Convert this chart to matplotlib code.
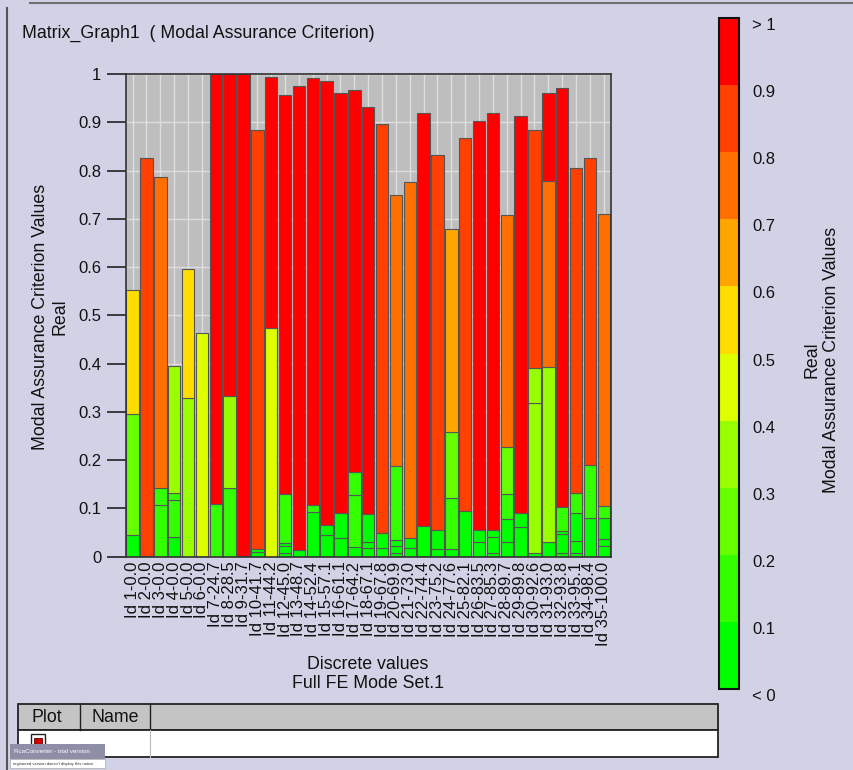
import matplotlib

matplotlib.use("Agg")
import matplotlib.pyplot as plt
import numpy as np
from matplotlib.cm import ScalarMappable
from matplotlib.colors import BoundaryNorm, ListedColormap
from matplotlib.patches import Rectangle

plt.rcParams["font.family"] = ["Liberation Sans", "DejaVu Sans"]

W, H = 854, 770
BG = "#D2D2E6"
PLOT_BG = "#BEBEBE"
GRID = "#DEDEDE"
EDGE = "#555555"
TXT = "#111111"
FS = 12.0      # tick labels
FS_LAB = 12.8  # titles / axis labels

mode_labels = [
    "Id 1-0.0", "Id 2-0.0", "Id 3-0.0", "Id 4-0.0", "Id 5-0.0", "Id 6-0.0",
    "Id 7-24.7", "Id 8-28.5", "Id 9-31.7", "Id 10-41.7", "Id 11-44.2",
    "Id 12-45.0", "Id 13-48.7", "Id 14-52.4", "Id 15-57.1", "Id 16-61.1",
    "Id 17-64.2", "Id 18-67.1", "Id 19-67.8", "Id 20-69.9", "Id 21-73.0",
    "Id 22-74.4", "Id 23-75.2", "Id 24-77.6", "Id 25-82.1", "Id 26-83.5",
    "Id 27-85.3", "Id 28-89.7", "Id 29-89.8", "Id 30-92.6", "Id 31-93.0",
    "Id 32-93.8", "Id 33-95.1", "Id 34-98.4", "Id 35-100.0",
]

# cumulative MAC heights of each stacked segment, bottom -> top, per mode
stack_tops = [
    [0.044, 0.295, 0.553],
    [0.002, 0.825],
    [0.108, 0.142, 0.786],
    [0.040, 0.117, 0.133, 0.395],
    [0.328, 0.596],
    [0.464],
    [0.109, 1.0],
    [0.142, 0.333, 1.0],
    [0.002, 1.0],
    [0.010, 0.016, 0.884],
    [0.474, 0.994],
    [0.007, 0.022, 0.029, 0.130, 0.957],
    [0.014, 0.976],
    [0.092, 0.108, 0.991],
    [0.044, 0.066, 0.986],
    [0.038, 0.091, 0.960],
    [0.020, 0.128, 0.176, 0.967],
    [0.017, 0.030, 0.089, 0.931],
    [0.017, 0.050, 0.896],
    [0.008, 0.022, 0.034, 0.187, 0.749],
    [0.017, 0.038, 0.776],
    [0.063, 0.919],
    [0.015, 0.055, 0.832],
    [0.016, 0.122, 0.259, 0.678],
    [0.094, 0.868],
    [0.031, 0.055, 0.903],
    [0.007, 0.041, 0.055, 0.919],
    [0.031, 0.078, 0.129, 0.228, 0.707],
    [0.061, 0.091, 0.912],
    [0.007, 0.318, 0.390, 0.884],
    [0.031, 0.394, 0.778, 0.960],
    [0.007, 0.047, 0.054, 0.103, 0.970],
    [0.007, 0.033, 0.090, 0.132, 0.805],
    [0.081, 0.191, 0.825],
    [0.022, 0.037, 0.080, 0.104, 0.709],
]

level_edges = [0.0, 0.1, 0.2, 0.3, 0.4, 0.5, 0.6, 0.7, 0.8, 0.9, 1.0]
level_colors = ["#00FF00", "#33FF00", "#66FF00", "#99FF00", "#DDFF00",
                "#FFDD00", "#FFA500", "#FF7000", "#FF4000", "#FF0000"]
level_labels = ["< 0", "0.1", "0.2", "0.3", "0.4", "0.5", "0.6", "0.7",
                "0.8", "0.9", "> 1"]

cmap = ListedColormap(level_colors)
norm = BoundaryNorm(level_edges, cmap.N, clip=True)


def px(x0, y0, x1, y1):
    """pixel box (top-left origin) -> figure rect"""
    return [x0 / W, 1 - y1 / H, (x1 - x0) / W, (y1 - y0) / H]


fig = plt.figure(figsize=(W / 100, H / 100), dpi=100, facecolor=BG)

# overlay in pixel coords for the window furniture
axf = fig.add_axes([0, 0, 1, 1])
axf.set_xlim(0, W); axf.set_ylim(H, 0); axf.axis("off")
axf.plot([30, W], [3, 3], color="#707070", lw=1.5)
axf.plot([7, 7], [8, H], color="#555555", lw=1.5)

axf.text(22, 33, "Matrix_Graph1  ( Modal Assurance Criterion)", ha="left",
         va="center", fontsize=FS_LAB, color=TXT)

# ---- main bar plot ----
ax = fig.add_axes(px(125.7, 74, 610.7, 556.7))
ax.set_facecolor(PLOT_BG)
x = np.arange(1, len(mode_labels) + 1)
for xi, tops in zip(x, stack_tops):
    tops = np.asarray(tops)
    bottoms = np.concatenate([[0.0], tops[:-1]])
    ax.bar(np.full(len(tops), xi), tops - bottoms, bottom=bottoms, width=0.9,
           color=cmap(norm(tops)), edgecolor=EDGE, linewidth=0.8, zorder=2)

ax.set_xlim(0.5, len(mode_labels) + 0.5)
ax.set_ylim(0, 1)
ax.set_xticks(x, mode_labels, rotation=90, fontsize=FS, color=TXT)
ax.set_yticks(level_edges, [f"{v:g}" for v in level_edges], fontsize=FS, color=TXT)
ax.tick_params(axis="x", length=0, pad=3.5)
ax.tick_params(axis="y", direction="out", length=14, width=1.2, pad=3.5, color="#222222")
ax.grid(True, color=GRID, lw=1.0, zorder=0)
ax.set_axisbelow(True)
for s in ax.spines.values():
    s.set_color("#333333"); s.set_linewidth(1.2)

axf.text(50, 317, "Modal Assurance Criterion Values\nReal", rotation=90,
         ha="center", va="center", multialignment="center", fontsize=FS_LAB,
         color=TXT, linespacing=1.2)
axf.text(368, 674, "Discrete values\nFull FE Mode Set.1", ha="center",
         va="center", multialignment="center", fontsize=FS_LAB, color=TXT,
         linespacing=1.15)

# ---- colour legend ----
cax = fig.add_axes(px(719, 18, 739, 689))
cb = fig.colorbar(ScalarMappable(norm=norm, cmap=cmap), cax=cax, ticks=level_edges)
cb.set_ticklabels(level_labels)
cb.ax.tick_params(length=0, pad=9.5, labelsize=FS, labelcolor=TXT)
for t in cb.ax.get_yticklabels():
    t.set_va("top")
cb.outline.set_linewidth(1.5)
cb.outline.set_edgecolor("#111111")
axf.text(822, 360, "Real\nModal Assurance Criterion Values", rotation=90,
         ha="center", va="center", multialignment="center", fontsize=FS_LAB,
         color=TXT, linespacing=1.2)

# ---- curve table ----
axf.add_patch(Rectangle((18, 704), 700, 26, fc="#C4C4C4", ec="#222222", lw=1.3))
axf.add_patch(Rectangle((18, 730), 700, 27, fc="white", ec="#222222", lw=1.3))
axf.plot([80, 80], [704, 730], color="#222222", lw=1.0)
axf.plot([150, 150], [704, 730], color="#222222", lw=1.0)
axf.plot([150, 150], [730, 757], color="#BBBBBB", lw=0.8)
axf.text(47, 717, "Plot", ha="center", va="center", fontsize=FS_LAB, color=TXT)
axf.text(115, 717, "Name", ha="center", va="center", fontsize=FS_LAB, color=TXT)
axf.add_patch(Rectangle((31, 734), 14, 16, fc="white", ec="#222222", lw=1.0))
axf.add_patch(Rectangle((34, 738), 8, 11, fc="#CC0000", ec="#660000", lw=0.6))

# trial-version watermark
axf.add_patch(Rectangle((10, 744), 95, 15, fc="#8E8EA8", ec="none"))
axf.text(14, 751.5, "RcaConverter - trial version", ha="left", va="center",
         fontsize=4.5, color="white")
axf.add_patch(Rectangle((10, 759), 95, 9, fc="white", ec="#AAAAAA", lw=0.5))
axf.text(13, 763.5, "registered version doesn't display this notice", ha="left",
         va="center", fontsize=3, color="#333333")

fig.savefig("out.png", dpi=100, facecolor=BG)
